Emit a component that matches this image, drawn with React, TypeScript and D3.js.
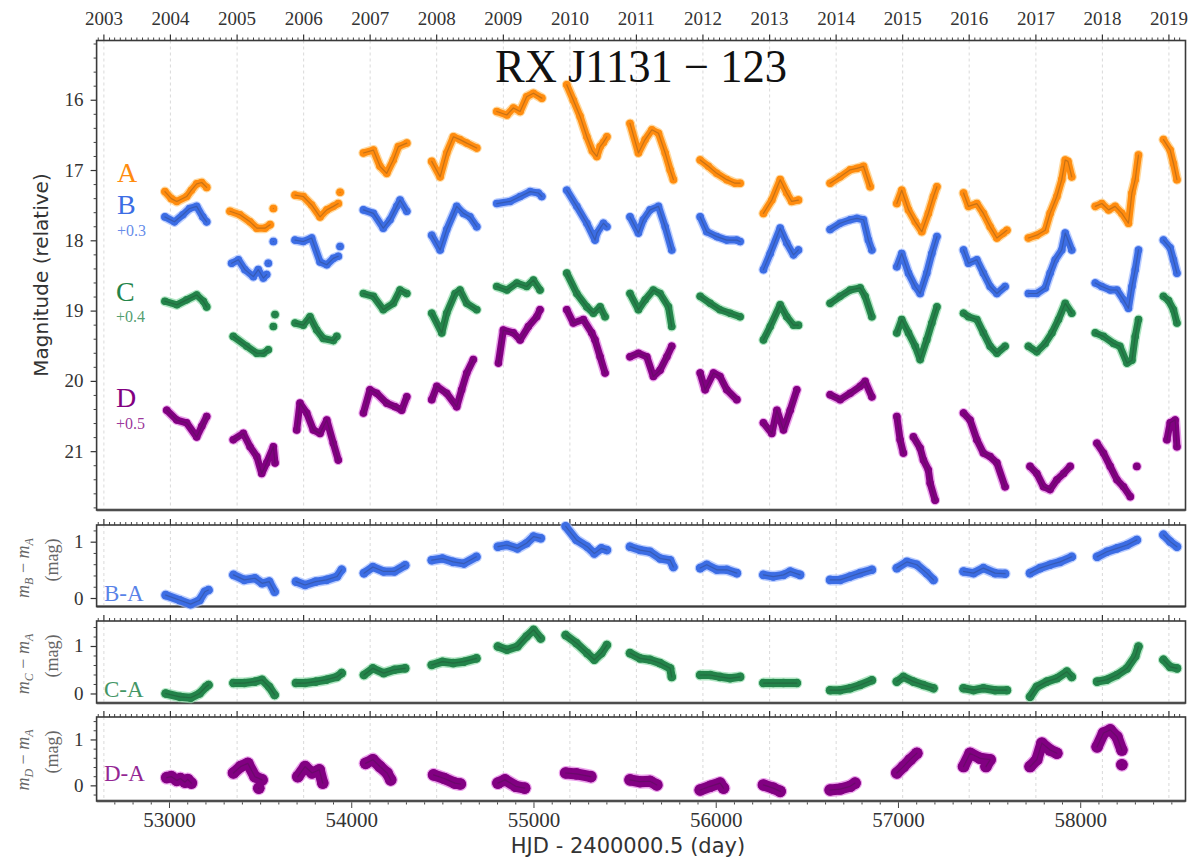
import React from 'react';
import * as d3 from 'd3';

type Pt = [number, number];

// tick labels
const yearLabels = [2003, 2004, 2005, 2006, 2007, 2008, 2009, 2010, 2011, 2012, 2013, 2014, 2015, 2016, 2017, 2018, 2019];
const hjdTicks = [53000, 54000, 55000, 56000, 57000, 58000];
const magTicks = [16, 17, 18, 19, 20, 21];
const diffTicks = [0, 1];

// light curves, one array per observing season: [HJD - 2400000.5, mag]
const curveA: Pt[][] = [
  [[52975, 17.30], [53010, 17.40], [53040, 17.44], [53094, 17.37], [53120, 17.28], [53149, 17.19], [53177, 17.17], [53204, 17.24]],
  [[53332, 17.58], [53387, 17.63], [53442, 17.73], [53479, 17.82], [53524, 17.82], [53552, 17.77]],
  [[53570, 17.54]],
  [[53689, 17.35], [53734, 17.37], [53780, 17.49], [53826, 17.66], [53863, 17.56], [53899, 17.51], [53926, 17.47]],
  [[53936, 17.31]],
  [[54064, 16.75], [54119, 16.71], [54155, 16.94], [54192, 17.04], [54228, 16.85], [54256, 16.66], [54302, 16.61]],
  [[54439, 16.87], [54485, 17.09], [54521, 16.75], [54558, 16.52], [54594, 16.56], [54631, 16.61], [54686, 16.68]],
  [[54796, 16.16], [54851, 16.21], [54887, 16.11], [54924, 16.16], [54960, 15.95], [54997, 15.90], [55043, 15.97]],
  [[55180, 15.78], [55216, 16.00], [55253, 16.23], [55290, 16.52], [55320, 16.72], [55345, 16.80], [55363, 16.66], [55381, 16.60], [55400, 16.52]],
  [[55527, 16.33], [55573, 16.75], [55610, 16.56], [55647, 16.42], [55683, 16.47], [55720, 16.75], [55747, 16.99], [55765, 17.13]],
  [[55912, 16.85], [55957, 16.94], [56003, 17.04], [56058, 17.13], [56103, 17.18], [56131, 17.18]],
  [[56259, 17.61], [56305, 17.42], [56351, 17.13], [56387, 17.32], [56414, 17.44], [56451, 17.42]],
  [[56625, 17.18], [56680, 17.09], [56735, 16.99], [56772, 16.97], [56808, 16.94], [56845, 17.23]],
  [[56991, 17.47], [57018, 17.28], [57055, 17.56], [57092, 17.73], [57128, 17.87], [57164, 17.61], [57192, 17.37], [57211, 17.23]],
  [[57357, 17.32], [57384, 17.51], [57430, 17.47], [57466, 17.61], [57503, 17.80], [57540, 17.96], [57576, 17.89], [57595, 17.85]],
  [[57713, 17.96], [57759, 17.92], [57805, 17.85], [57832, 17.61], [57869, 17.37], [57896, 17.13], [57915, 16.85], [57930, 16.87], [57951, 17.09]],
  [[58080, 17.51], [58116, 17.47], [58153, 17.56], [58189, 17.51], [58226, 17.61], [58262, 17.75], [58281, 17.32], [58299, 17.13], [58317, 16.78]],
  [[58454, 16.56], [58491, 16.71], [58509, 16.90], [58528, 17.13]],
];

const curveB: Pt[][] = [
  [[52975, 17.66], [53027, 17.73], [53073, 17.63], [53110, 17.54], [53149, 17.51], [53183, 17.66], [53204, 17.73]],
  [[53341, 18.32], [53378, 18.27], [53414, 18.41], [53460, 18.51], [53487, 18.41], [53515, 18.53], [53533, 18.48]],
  [[53542, 18.32]],
  [[53570, 18.01]],
  [[53689, 17.99], [53734, 18.01], [53780, 17.96], [53826, 18.30], [53863, 18.34], [53899, 18.25], [53926, 18.22]],
  [[53936, 18.08]],
  [[54064, 17.56], [54119, 17.61], [54173, 17.82], [54210, 17.70], [54247, 17.51], [54265, 17.42], [54302, 17.58]],
  [[54439, 17.92], [54485, 18.13], [54521, 17.84], [54576, 17.51], [54613, 17.61], [54649, 17.66], [54686, 17.80]],
  [[54796, 17.47], [54869, 17.44], [54924, 17.37], [54979, 17.30], [55024, 17.32], [55043, 17.37]],
  [[55180, 17.28], [55235, 17.51], [55290, 17.75], [55335, 17.99], [55345, 17.89], [55381, 17.75], [55400, 17.80]],
  [[55527, 17.66], [55573, 17.89], [55600, 17.70], [55637, 17.56], [55683, 17.51], [55720, 17.80], [55756, 18.13]],
  [[55912, 17.66], [55948, 17.87], [56003, 17.94], [56058, 17.99], [56113, 17.99], [56131, 18.01]],
  [[56259, 18.41], [56296, 18.18], [56351, 17.82], [56387, 18.03], [56424, 18.20], [56451, 18.13]],
  [[56625, 17.84], [56680, 17.75], [56735, 17.70], [56772, 17.68], [56808, 17.70], [56835, 17.99], [56854, 18.13]],
  [[56991, 18.37], [57018, 18.18], [57055, 18.46], [57092, 18.65], [57119, 18.75], [57155, 18.46], [57183, 18.18], [57211, 17.94]],
  [[57357, 18.13], [57384, 18.32], [57430, 18.27], [57466, 18.46], [57503, 18.65], [57540, 18.75], [57585, 18.65]],
  [[57713, 18.75], [57759, 18.75], [57805, 18.67], [57832, 18.46], [57860, 18.27], [57896, 18.13], [57915, 17.89], [57951, 18.13]],
  [[58080, 18.60], [58116, 18.65], [58162, 18.70], [58199, 18.70], [58235, 18.84], [58262, 18.96], [58281, 18.65], [58299, 18.41], [58317, 18.13]],
  [[58454, 17.99], [58491, 18.10], [58509, 18.27], [58528, 18.46]],
];

const curveC: Pt[][] = [
  [[52975, 18.86], [53040, 18.91], [53094, 18.84], [53149, 18.77], [53186, 18.86], [53204, 18.94]],
  [[53350, 19.36], [53424, 19.50], [53479, 19.60], [53515, 19.60], [53542, 19.55]],
  [[53570, 19.22]],
  [[53579, 19.05]],
  [[53689, 19.17], [53734, 19.20], [53771, 19.08], [53808, 19.27], [53844, 19.39], [53899, 19.42], [53918, 19.36]],
  [[54064, 18.75], [54119, 18.79], [54173, 18.98], [54228, 18.89], [54265, 18.70], [54302, 18.75]],
  [[54439, 19.03], [54494, 19.31], [54521, 19.03], [54567, 18.75], [54594, 18.70], [54631, 18.89], [54686, 18.98]],
  [[54796, 18.65], [54851, 18.70], [54906, 18.60], [54960, 18.65], [54997, 18.56], [55033, 18.70]],
  [[55180, 18.46], [55235, 18.75], [55290, 18.94], [55326, 19.03], [55363, 18.94], [55390, 19.08]],
  [[55527, 18.75], [55573, 18.98], [55610, 18.84], [55655, 18.70], [55692, 18.75], [55738, 18.94], [55756, 19.22]],
  [[55912, 18.79], [55967, 18.89], [56021, 18.98], [56076, 19.03], [56131, 19.08]],
  [[56259, 19.41], [56296, 19.22], [56351, 18.91], [56387, 19.08], [56424, 19.20], [56451, 19.20]],
  [[56625, 18.89], [56680, 18.79], [56735, 18.70], [56790, 18.67], [56817, 18.79], [56854, 19.08]],
  [[56991, 19.31], [57018, 19.12], [57055, 19.31], [57092, 19.50], [57119, 19.69], [57155, 19.41], [57183, 19.17], [57211, 18.94]],
  [[57357, 19.03], [57384, 19.08], [57430, 19.12], [57466, 19.31], [57503, 19.50], [57540, 19.60], [57585, 19.50]],
  [[57713, 19.50], [57759, 19.58], [57805, 19.46], [57842, 19.31], [57878, 19.12], [57915, 18.89], [57951, 19.03]],
  [[58080, 19.31], [58125, 19.36], [58180, 19.46], [58215, 19.50], [58254, 19.74], [58281, 19.70], [58299, 19.36], [58317, 19.12]],
  [[58454, 18.79], [58482, 18.85], [58509, 18.98], [58528, 19.17]],
];

const curveD: Pt[][] = [
  [[52985, 20.41], [53040, 20.55], [53094, 20.59], [53149, 20.79], [53177, 20.64], [53204, 20.50]],
  [[53350, 20.83], [53405, 20.74], [53442, 20.93], [53479, 21.07], [53506, 21.31], [53533, 21.16], [53570, 20.93], [53579, 21.16]],
  [[53698, 20.69], [53716, 20.31], [53753, 20.45], [53789, 20.69], [53826, 20.74], [53863, 20.55], [53899, 20.88], [53926, 21.12]],
  [[54064, 20.45], [54100, 20.12], [54137, 20.17], [54192, 20.31], [54238, 20.36], [54274, 20.41], [54302, 20.22]],
  [[54439, 20.26], [54467, 20.07], [54521, 20.17], [54576, 20.36], [54603, 20.12], [54631, 19.88], [54667, 19.69]],
  [[54805, 19.74], [54832, 19.27], [54887, 19.31], [54924, 19.41], [54969, 19.22], [55015, 19.08], [55033, 18.98]],
  [[55180, 18.98], [55216, 19.17], [55271, 19.12], [55317, 19.31], [55335, 19.41], [55363, 19.65], [55390, 19.88]],
  [[55527, 19.65], [55573, 19.60], [55619, 19.65], [55655, 19.93], [55692, 19.84], [55729, 19.65], [55756, 19.50]],
  [[55912, 19.88], [55939, 20.12], [55985, 19.88], [56021, 19.93], [56058, 20.12], [56113, 20.26]],
  [[56259, 20.59], [56305, 20.74], [56333, 20.41], [56369, 20.69], [56406, 20.41], [56442, 20.12]],
  [[56625, 20.19], [56680, 20.26], [56735, 20.17], [56790, 20.07], [56817, 20.00], [56854, 20.22]],
  [[56991, 20.50], [57009, 20.83], [57027, 21.02]],
  [[57082, 20.79], [57119, 20.95], [57137, 21.12], [57164, 21.26], [57174, 21.45], [57201, 21.69]],
  [[57357, 20.45], [57393, 20.55], [57430, 20.83], [57466, 21.02], [57503, 21.07], [57540, 21.16], [57585, 21.50]],
  [[57722, 21.21], [57759, 21.31], [57796, 21.50], [57832, 21.54], [57869, 21.40], [57906, 21.31], [57942, 21.21]],
  [[58089, 20.88], [58125, 21.02], [58162, 21.21], [58199, 21.40], [58235, 21.50], [58272, 21.64]],
  [[58308, 21.21]],
  [[58473, 20.83], [58491, 20.59], [58518, 20.55], [58528, 20.93]],
];

// difference curves
const diffBA: Pt[][] = [
  [[52979, 0.06], [53057, -0.03], [53116, -0.10], [53165, -0.03], [53194, 0.12], [53214, 0.15]],
  [[53351, 0.42], [53410, 0.33], [53469, 0.36], [53508, 0.27], [53547, 0.30], [53577, 0.12]],
  [[53694, 0.30], [53744, 0.24], [53802, 0.30], [53861, 0.33], [53919, 0.39], [53945, 0.51]],
  [[54067, 0.45], [54116, 0.56], [54175, 0.48], [54234, 0.48], [54293, 0.59]],
  [[54439, 0.68], [54498, 0.71], [54557, 0.65], [54616, 0.62], [54684, 0.74]],
  [[54802, 0.92], [54851, 0.95], [54909, 0.89], [54959, 0.98], [54998, 1.10], [55037, 1.07]],
  [[55174, 1.28], [55233, 1.04], [55292, 0.92], [55331, 0.80], [55370, 0.89], [55400, 0.86]],
  [[55527, 0.92], [55582, 0.86], [55637, 0.83], [55692, 0.71], [55747, 0.68], [55765, 0.56]],
  [[55912, 0.54], [55948, 0.60], [56003, 0.51], [56058, 0.51], [56113, 0.45]],
  [[56259, 0.42], [56313, 0.39], [56369, 0.42], [56406, 0.48], [56460, 0.42]],
  [[56625, 0.33], [56680, 0.33], [56735, 0.39], [56790, 0.45], [56854, 0.51]],
  [[56991, 0.54], [57046, 0.65], [57101, 0.60], [57155, 0.45], [57192, 0.33]],
  [[57357, 0.48], [57412, 0.45], [57466, 0.54], [57530, 0.45], [57585, 0.44]],
  [[57722, 0.45], [57777, 0.54], [57832, 0.60], [57887, 0.65], [57951, 0.74]],
  [[58090, 0.74], [58144, 0.83], [58199, 0.89], [58254, 0.95], [58308, 1.04]],
  [[58454, 1.13], [58491, 1.01], [58528, 0.92]],
];

const diffCA: Pt[][] = [
  [[52979, 0.01], [53057, -0.06], [53116, -0.08], [53165, 0.01], [53200, 0.15], [53214, 0.19]],
  [[53351, 0.23], [53410, 0.23], [53469, 0.26], [53508, 0.30], [53547, 0.15], [53577, -0.02]],
  [[53694, 0.23], [53744, 0.23], [53802, 0.26], [53861, 0.30], [53919, 0.36], [53945, 0.44]],
  [[54067, 0.40], [54116, 0.54], [54175, 0.44], [54234, 0.51], [54293, 0.54]],
  [[54439, 0.61], [54498, 0.68], [54557, 0.65], [54616, 0.68], [54684, 0.75]],
  [[54802, 1.00], [54851, 0.93], [54909, 1.00], [54959, 1.21], [54998, 1.35], [55037, 1.17]],
  [[55174, 1.24], [55233, 1.07], [55292, 0.86], [55331, 0.72], [55370, 0.86], [55400, 1.03]],
  [[55527, 0.86], [55582, 0.75], [55637, 0.72], [55692, 0.65], [55747, 0.54], [55756, 0.36]],
  [[55912, 0.40], [55967, 0.40], [56021, 0.36], [56076, 0.33], [56131, 0.36]],
  [[56259, 0.23], [56313, 0.23], [56369, 0.23], [56442, 0.23]],
  [[56625, 0.08], [56680, 0.08], [56735, 0.12], [56790, 0.19], [56854, 0.29]],
  [[56991, 0.26], [57027, 0.36], [57082, 0.26], [57137, 0.19], [57192, 0.12]],
  [[57357, 0.12], [57412, 0.08], [57466, 0.12], [57530, 0.08], [57595, 0.08]],
  [[57722, -0.06], [57759, 0.15], [57814, 0.26], [57869, 0.33], [57924, 0.47], [57951, 0.36]],
  [[58090, 0.26], [58144, 0.30], [58199, 0.40], [58254, 0.54], [58299, 0.79], [58317, 1.00]],
  [[58454, 0.72], [58491, 0.57], [58528, 0.54]],
];

const diffDA: Pt[][] = [
  [[52985, 0.18], [53010, 0.20], [53040, 0.12], [53060, 0.16], [53085, 0.08], [53100, 0.14], [53120, 0.06]],
  [[53351, 0.28], [53390, 0.42], [53430, 0.49], [53469, 0.20], [53508, 0.13]],
  [[53490, -0.05]],
  [[53704, 0.20], [53744, 0.42], [53782, 0.28], [53822, 0.35], [53841, 0.06]],
  [[54076, 0.49], [54116, 0.57], [54155, 0.42], [54194, 0.28], [54214, 0.13]],
  [[54449, 0.24], [54508, 0.16], [54566, 0.06], [54596, 0.04]],
  [[54802, 0.06], [54841, 0.13], [54900, -0.01], [54949, -0.05]],
  [[55174, 0.28], [55233, 0.26], [55312, 0.20]],
  [[55527, 0.13], [55582, 0.09], [55637, 0.10], [55674, 0.02]],
  [[55912, -0.09], [55967, -0.01], [56021, 0.06], [56040, -0.05]],
  [[56259, 0.02], [56313, -0.05], [56351, -0.12]],
  [[56625, -0.09], [56680, -0.07], [56735, -0.01], [56762, 0.06]],
  [[56991, 0.28], [57027, 0.42], [57064, 0.57], [57101, 0.71]],
  [[57357, 0.42], [57393, 0.71], [57448, 0.60], [57503, 0.57], [57480, 0.42]],
  [[57722, 0.42], [57759, 0.57], [57787, 0.93], [57832, 0.78], [57869, 0.71]],
  [[58090, 0.85], [58125, 1.15], [58162, 1.22], [58199, 1.07], [58226, 0.78]],
  [[58226, 0.46]],
];

const colA = '#ff8c0f';
const colB = '#3c6de4';
const colC = '#23844a';
const colD = '#820082';
const haloA = '#ffc873';
const haloB = '#9db8ff';
const haloC = '#8fdcaa';
const haloD = '#e27ae2';

const serif = '"Liberation Serif", "DejaVu Serif", serif';
const sans = '"DejaVu Sans", sans-serif';

const W = 1195;
const H = 863;
const left = 96.6;
const right = 1185.5;

const mjd = (y: number, m: number) => Date.UTC(y, m, 1) / 86400000 + 40587;

function Series({ seasons, x, y, color, halo, w }) {
  const line = d3.line<Pt>().x(d => x(d[0])).y(d => y(d[1]));
  return (
    <g>
      {seasons.map((s, i) => (
        <path key={'h' + i} d={line(s) || ''} fill="none" stroke={halo} strokeOpacity={0.7}
          strokeWidth={w + 3} strokeLinecap="round" strokeLinejoin="round" />
      ))}
      {seasons.map((s, i) => (
        <path key={'c' + i} d={line(s) || ''} fill="none" stroke={color}
          strokeWidth={w} strokeLinecap="round" strokeLinejoin="round" />
      ))}
      {seasons.flat().map((p, i) => (
        <circle key={'p' + i} cx={x(p[0])} cy={y(p[1])} r={w / 2 + 0.3} fill={color} />
      ))}
      {seasons.map((s, i) => (
        <path key={'k' + i} d={line(s) || ''} fill="none" stroke="#222" strokeOpacity={0.25}
          strokeWidth={1.2} strokeLinecap="round" strokeLinejoin="round" />
      ))}
    </g>
  );
}

function Frame({ x, y, top, bottom, majors, minor, label, bottomAxis }) {
  const years = yearLabels.map(yr => mjd(yr, 0));
  const months = d3.range(2002, 2020).flatMap(yr => d3.range(1, 12).map(m => mjd(yr, m)))
    .filter(v => x(v) > left + 1 && x(v) < right - 1);
  return (
    <g>
      {years.filter(v => x(v) > left && x(v) < right).map(v => (
        <line key={'g' + v} x1={x(v)} x2={x(v)} y1={top} y2={bottom} stroke="#cfcfcf" strokeWidth={0.8} strokeDasharray="3,3" />
      ))}
      {months.map(v => (
        <line key={'m' + v} x1={x(v)} x2={x(v)} y1={top} y2={top - 3} stroke="#444" strokeWidth={1} />
      ))}
      {years.filter(v => x(v) > left && x(v) < right).map(v => (
        <line key={'t' + v} x1={x(v)} x2={x(v)} y1={top} y2={top - 6} stroke="#333" strokeWidth={1.2} />
      ))}
      {minor.map(v => (
        <line key={'ym' + v} x1={left} x2={left - 3} y1={y(v)} y2={y(v)} stroke="#444" strokeWidth={1} />
      ))}
      {majors.map(v => (
        <g key={'yt' + v}>
          <line x1={left} x2={left - 6} y1={y(v)} y2={y(v)} stroke="#333" strokeWidth={1.2} />
          <text x={left - 13} y={y(v) + 6} textAnchor="end" fontFamily={serif} fontSize={19} fill="#333">{v}</text>
        </g>
      ))}
      {bottomAxis && d3.range(52700, 58600, 100).map(v => (
        <line key={'bm' + v} x1={x(v)} x2={x(v)} y1={bottom} y2={bottom + (v % 1000 === 0 ? 7 : 3.5)} stroke="#444" strokeWidth={1} />
      ))}
      {bottomAxis && hjdTicks.map(v => (
        <text key={'bt' + v} x={x(v)} y={bottom + 26} textAnchor="middle" fontFamily={serif} fontSize={21} fill="#333">{v}</text>
      ))}
      <line x1={left} x2={right} y1={bottom} y2={bottom} stroke="#999" strokeWidth={3} />
      <rect x={left} y={top} width={right - left} height={bottom - top} fill="none" stroke="#3a3a3a" strokeWidth={1.6} />
      {label}
    </g>
  );
}

function DiffLabel({ cy, sub }) {
  return (
    <g fill="#666" fontFamily={serif}>
      <text transform={`translate(29,${cy}) rotate(-90)`} textAnchor="middle" fontSize={18}>
        <tspan fontStyle="italic">m</tspan>
        <tspan fontStyle="italic" fontSize={12} dy={4}>{sub}</tspan>
        <tspan dy={-4}> − </tspan>
        <tspan fontStyle="italic">m</tspan>
        <tspan fontStyle="italic" fontSize={12} dy={4}>A</tspan>
      </text>
      <text transform={`translate(58,${cy - 8}) rotate(-90)`} textAnchor="middle" fontSize={18}>(mag)</text>
    </g>
  );
}

export default function App() {
  const x = d3.scaleLinear().domain([52600, 58575]).range([left, right]);
  const yMain = d3.scaleLinear().domain([15.15, 21.83]).range([40.5, 510]);
  const y1 = d3.scaleLinear().domain([1.305, -0.142]).range([525, 606.5]);
  const y2 = d3.scaleLinear().domain([1.537, -0.19]).range([621, 703]);
  const y3 = d3.scaleLinear().domain([1.5, -0.33]).range([717, 801]);

  const mainMinor = d3.range(15.2, 21.81, 0.2).map(v => +v.toFixed(1)).filter(v => !Number.isInteger(v));
  const subMinor = [-0.2, 0.2, 0.4, 0.6, 0.8, 1.2, 1.4];

  return (
    <svg width={W} height={H} style={{ position: 'absolute', left: 0, top: 0, background: '#fff' }}>
      {yearLabels.map(yr => (
        <text key={yr} x={x(mjd(yr, 0))} y={25} textAnchor="middle" fontFamily={serif} fontSize={19} fill="#333">{yr}</text>
      ))}

      <Frame x={x} y={yMain} top={40.5} bottom={510} majors={magTicks} minor={mainMinor} bottomAxis={false} label={null} />
      <text x={641} y={82} textAnchor="middle" fontFamily={serif} fontSize={46} textLength={292} lengthAdjust="spacingAndGlyphs" fill="#111">RX J1131 − 123</text>

      <Series seasons={curveA} x={x} y={yMain} color={colA} halo={haloA} w={7} />
      <Series seasons={curveB} x={x} y={yMain} color={colB} halo={haloB} w={7} />
      <Series seasons={curveC} x={x} y={yMain} color={colC} halo={haloC} w={7} />
      <Series seasons={curveD} x={x} y={yMain} color={colD} halo={haloD} w={7} />

      <g fontFamily={serif}>
        <text x={117} y={182} fontSize={28} fill={colA}>A</text>
        <text x={117} y={214} fontSize={28} fill={colB}>B</text>
        <text x={117} y={236} fontSize={16} fill={colB} fillOpacity={0.8}>+0.3</text>
        <text x={116} y={301} fontSize={28} fill={colC}>C</text>
        <text x={116} y={322} fontSize={16} fill={colC} fillOpacity={0.8}>+0.4</text>
        <text x={116} y={407} fontSize={28} fill={colD}>D</text>
        <text x={116} y={429} fontSize={16} fill={colD} fillOpacity={0.8}>+0.5</text>
      </g>

      <text transform="translate(48,275) rotate(-90)" textAnchor="middle" fontFamily={sans} fontSize={20} fill="#333">Magnitude (relative)</text>

      <Frame x={x} y={y1} top={525} bottom={606.5} majors={diffTicks} minor={subMinor.filter(v => v > -0.142 && v < 1.3)} bottomAxis={false}
        label={<text x={104} y={601} fontFamily={serif} fontSize={23} fill={colB} opacity={0.85}>B-A</text>} />
      <Series seasons={diffBA} x={x} y={y1} color={colB} halo={haloB} w={8} />

      <Frame x={x} y={y2} top={621} bottom={703} majors={diffTicks} minor={subMinor.filter(v => v > -0.19 && v < 1.53)} bottomAxis={false}
        label={<text x={104} y={697} fontFamily={serif} fontSize={23} fill={colC} opacity={0.85}>C-A</text>} />
      <Series seasons={diffCA} x={x} y={y2} color={colC} halo={haloC} w={8} />

      <Frame x={x} y={y3} top={717} bottom={801} majors={diffTicks} minor={subMinor.filter(v => v > -0.33 && v < 1.5)} bottomAxis={true}
        label={<text x={104} y={781} fontFamily={serif} fontSize={23} fill={colD} opacity={0.85}>D-A</text>} />
      <Series seasons={diffDA} x={x} y={y3} color={colD} halo={haloD} w={11} />

      <DiffLabel cy={568} sub="B" />
      <DiffLabel cy={664} sub="C" />
      <DiffLabel cy={760} sub="D" />

      <text x={628} y={853} textAnchor="middle" fontFamily={sans} fontSize={21} fill="#333">HJD - 2400000.5 (day)</text>
    </svg>
  );
}
